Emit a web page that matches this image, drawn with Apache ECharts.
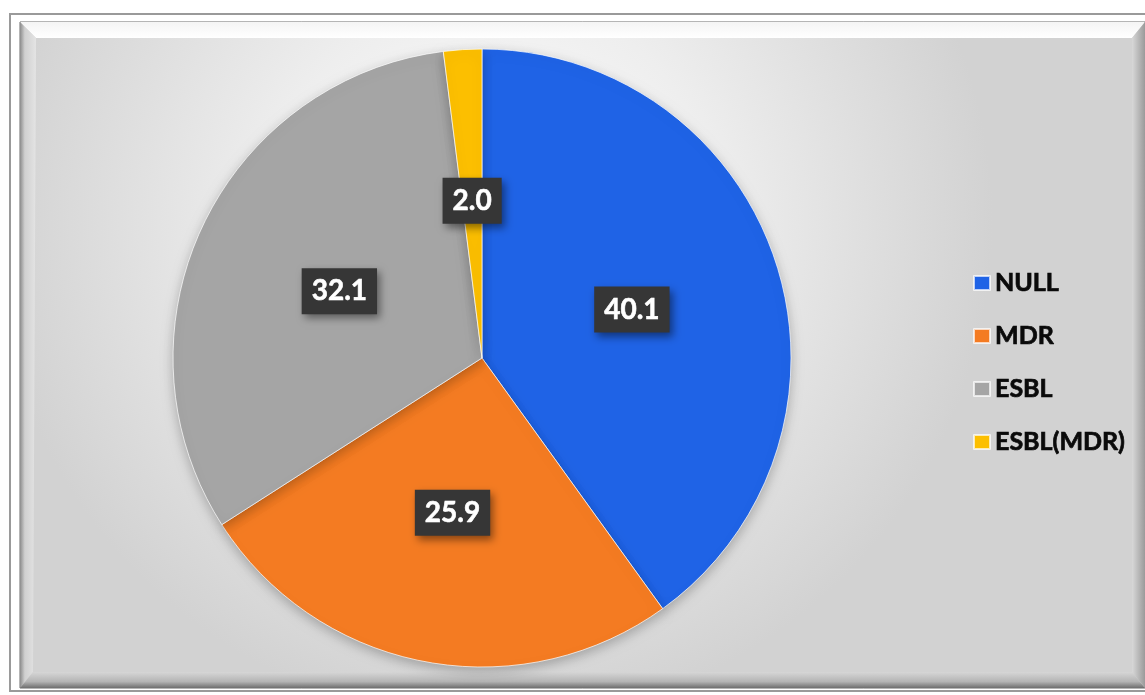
<!DOCTYPE html>
<html>
<head>
<meta charset="utf-8">
<script src="https://cdn.jsdelivr.net/npm/echarts@6/dist/echarts.min.js"></script>
<style>
    html, body { margin: 0; padding: 0; background: #fff; }
    #main { width: 1145px; height: 695px; }
</style>
</head>
<body>
<div id="main"></div>
<script>
var categories = ['NULL', 'MDR', 'ESBL', 'ESBL(MDR)'];
var values = [40.1, 25.9, 32.1, 2.0];
var colors = ['#1f63e6', '#f47b22', '#a5a5a5', '#fcbf00'];

var myChart = echarts.init(document.getElementById('main'));

// 数据
var pieData = categories.map(function(name, i) {
    return { name: name, value: values[i], itemStyle: { color: colors[i] } };
});

// 外框和斜面
var L = 20, T = 22, R = 1145, B = 688, bw = 13;
var frame = [
    {
        type: 'rect', z: -10, silent: true,
        shape: { x: 10, y: 14, width: 1140, height: 677 },
        style: { fill: '#fff', stroke: '#9a9a9a', lineWidth: 2 }
    },
    {
        type: 'rect', z: -9, silent: true,
        shape: { x: L, y: T, width: R - L, height: B - T },
        style: {
            fill: new echarts.graphic.RadialGradient(0.42, 0.3, 0.75, [
                { offset: 0, color: '#ffffff' },
                { offset: 0.45, color: '#eeeeee' },
                { offset: 1, color: '#d2d2d2' }
            ]),
            stroke: '#6a6a6a', lineWidth: 1
        }
    },
    {
        type: 'polygon', z: -8, silent: true,
        shape: { points: [[L, T], [R, T], [R - bw, T + bw + 3], [L + bw + 3, T + bw + 3]] },
        style: {
            fill: new echarts.graphic.LinearGradient(0, 0, 0, 1, [
                { offset: 0, color: '#f4f4f4' },
                { offset: 1, color: '#ffffff' }
            ])
        }
    },
    {
        type: 'polygon', z: -8, silent: true,
        shape: { points: [[L, T], [L + bw + 3, T + bw + 3], [L + bw, B - bw - 3], [L, B]] },
        style: {
            fill: new echarts.graphic.LinearGradient(0, 0, 1, 0, [
                { offset: 0, color: '#8c8c8c' },
                { offset: 0.3, color: '#d0d0d0' },
                { offset: 1, color: '#e4e4e4' }
            ])
        }
    },
    {
        type: 'polygon', z: -8, silent: true,
        shape: { points: [[L, B], [L + bw, B - bw - 3], [R - bw, B - bw - 3], [R, B]] },
        style: {
            fill: new echarts.graphic.LinearGradient(0, 0, 0, 1, [
                { offset: 0, color: '#d6d6d6' },
                { offset: 0.6, color: '#b4b4b4' },
                { offset: 1, color: '#6e6e6e' }
            ])
        }
    },
    {
        type: 'polygon', z: -8, silent: true,
        shape: { points: [[R, T], [R, B], [R - bw, B - bw - 3], [R - bw, T + bw + 3]] },
        style: {
            fill: new echarts.graphic.LinearGradient(0, 0, 1, 0, [
                { offset: 0, color: '#d8d8d8' },
                { offset: 1, color: '#9a9a9a' }
            ])
        }
    }
];

var option = {
    animation: false,
    graphic: frame,
    legend: {
        orient: 'vertical',
        left: 968,
        top: 265,
        icon: 'rect',
        itemWidth: 16,
        itemHeight: 14,
        itemGap: 27,
        textStyle: {
            fontFamily: 'Lato',
            fontWeight: 'bold',
            fontSize: 25,
            lineHeight: 26,
            color: '#0a0a0a',
            textBorderColor: '#0a0a0a',
            textBorderWidth: 0.7
        },
        data: categories
    },
    series: [{
        type: 'pie',
        center: [482, 358],
        radius: 309,
        startAngle: 90,
        clockwise: true,
        itemStyle: {
            borderColor: 'rgba(255,255,255,0.7)',
            borderWidth: 1,
            shadowBlur: 12,
            shadowColor: 'rgba(0,0,0,0.25)',
            shadowOffsetY: 4
        },
        label: {
            show: true,
            position: 'inside',
            formatter: function(p) {
                return p.value.toFixed(1);
            },
            fontFamily: 'Lato',
            fontWeight: 'bold',
            fontSize: 28,
            color: '#fff',
            textBorderColor: '#fff',
            textBorderWidth: 0.6,
            backgroundColor: '#363636',
            padding: [10, 10, 8, 10],
            shadowBlur: 8,
            shadowColor: 'rgba(0,0,0,0.45)',
            shadowOffsetX: 3,
            shadowOffsetY: 4
        },
        labelLine: { show: false },
        emphasis: { disabled: true },
        data: pieData
    }]
};

myChart.setOption(option);
</script>
</body>
</html>
